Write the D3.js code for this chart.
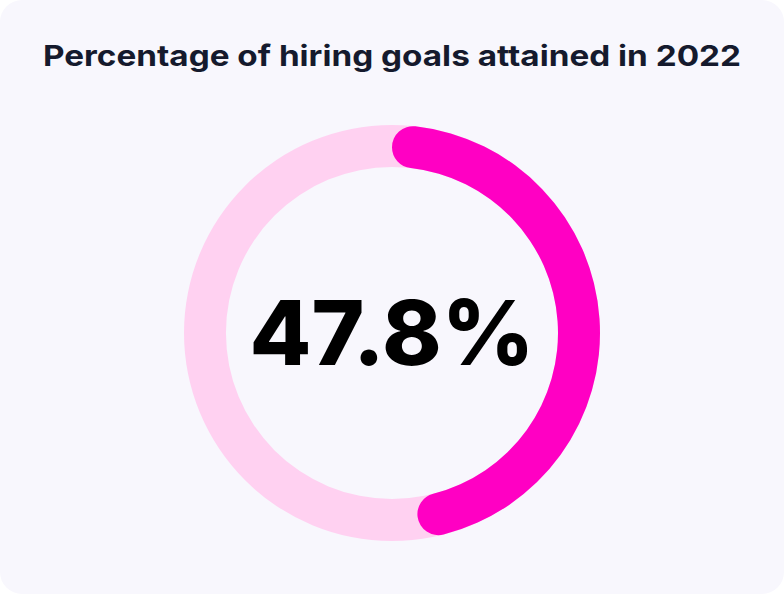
<!DOCTYPE html>
<html lang="en">
<head>
<meta charset="UTF-8">
<script src="https://d3js.org/d3.v7.min.js"></script>
<style>
  body { margin: 0; background: #fff; font-family: Inter, "Noto Sans", sans-serif; }
</style>
</head>
<body>
<svg id="chart" width="784" height="594"></svg>
<script>
const title = "Percentage of hiring goals attained in 2022";
const labels = ["Attained", "Remaining"];
const values = [47.8, 52.2];

const svg = d3.select("#chart");
svg.append("rect")
    .attr("x", 0).attr("y", 0).attr("width", 784).attr("height", 594)
    .attr("rx", 22).attr("fill", "#f8f7fd");

svg.append("text")
    .attr("x", 392).attr("y", 66)
    .attr("text-anchor", "middle")
    .attr("font-size", 29).attr("font-weight", 700)
    .attr("textLength", 698).attr("lengthAdjust", "spacingAndGlyphs")
    .attr("fill", "#151a2d")
    .text(title);

const g = svg.append("g").attr("transform", "translate(392,333)");
const outer = 208, inner = 166;

// background track
g.append("path")
    .attr("d", d3.arc().innerRadius(inner).outerRadius(outer)({startAngle: 0, endAngle: 2 * Math.PI}))
    .attr("fill", "#ffd1f1");

const angle = d3.scaleLinear().domain([0, 100]).range([0, 2 * Math.PI]);
g.append("path")
    .attr("d", d3.arc().innerRadius(inner).outerRadius(outer).cornerRadius(21)
        ({startAngle: 0, endAngle: angle(values[0])}))
    .attr("fill", "#ff00c3");

g.append("text")
    .attr("text-anchor", "middle")
    .attr("dy", "0.36em")
    .attr("font-size", 90).attr("font-weight", 800)
    .attr("fill", "#000")
    .text(values[0] + "%");
</script>
</body>
</html>
